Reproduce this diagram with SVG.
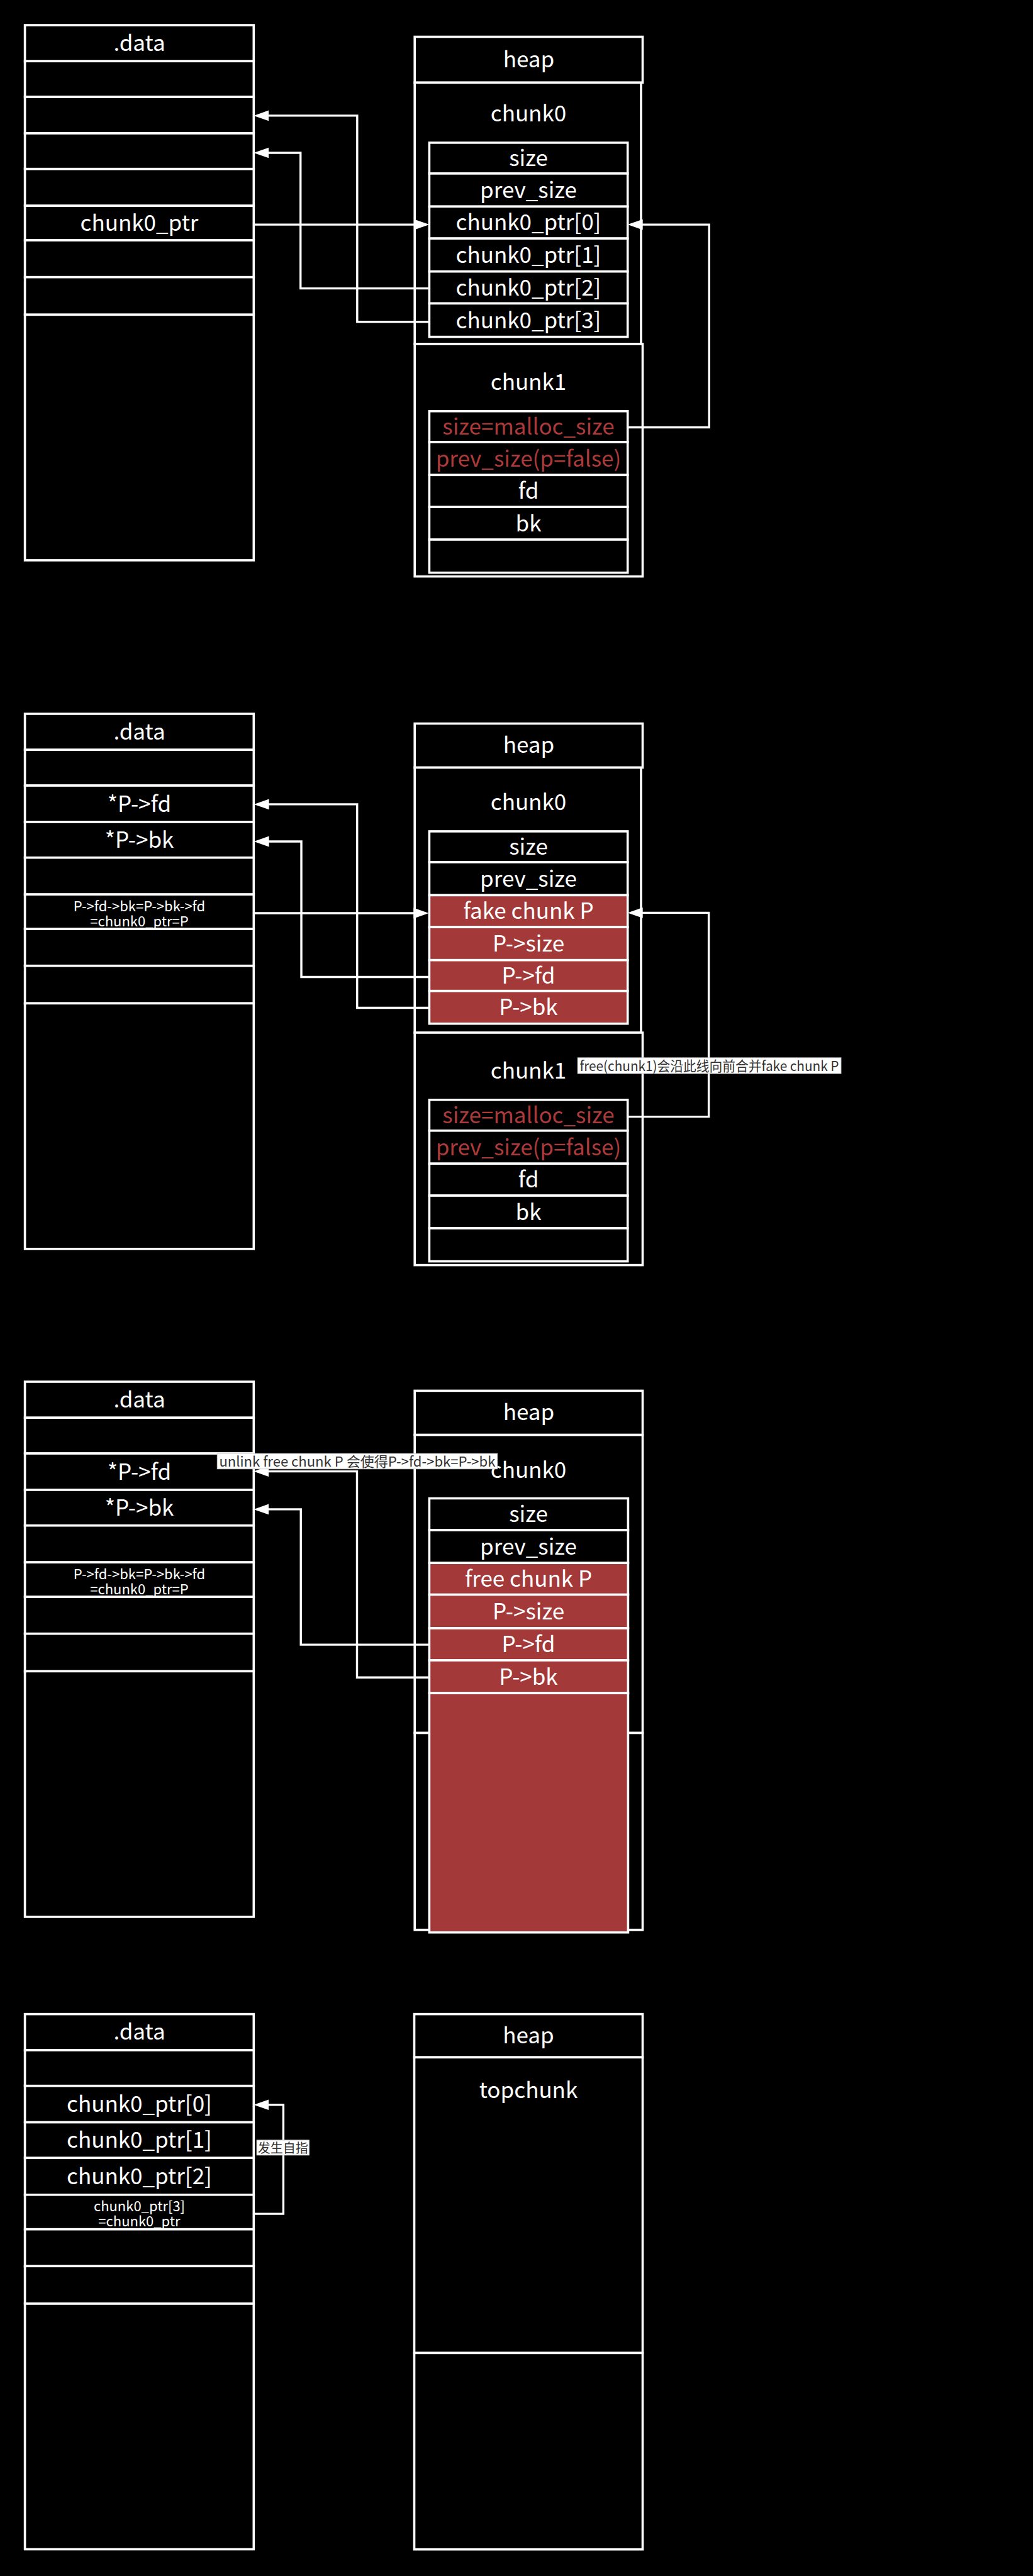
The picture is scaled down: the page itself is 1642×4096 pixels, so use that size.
<svg xmlns="http://www.w3.org/2000/svg" width="1642" height="4096" viewBox="0 0 1642 4096">
<defs>
<style>
.bg{fill:#000}
.box{fill:#000;stroke:#fff;stroke-width:3.6}
.red{fill:#a33939;stroke:#fff;stroke-width:3.6}
text{font-family:"Noto Sans CJK SC","Liberation Sans",sans-serif;text-anchor:middle}
.t{fill:#fff;font-size:35px}
.tr{fill:#ad3a3a;font-size:35px}
.ts{fill:#fff;font-size:22px}
.edge{fill:none;stroke:#fff;stroke-width:3.4}
.lblbg{fill:#fff;stroke:#cfcfcf;stroke-width:1}
.lbl{fill:#333;font-size:22px}
</style>
<marker id="arr" markerUnits="userSpaceOnUse" viewBox="0 -9 25 18" markerWidth="25" markerHeight="18" refX="19" refY="0" orient="auto">
<path d="M24,0 L0,-8.4 L0,8.4 Z" fill="#fff"/>
</marker>
<g id="datacol">
<rect class="box" x="39.6" y="40" width="363.7" height="57.3"/>
<rect class="box" x="39.6" y="97.3" width="363.7" height="56.8"/>
<rect class="box" x="39.6" y="154.1" width="363.7" height="57.9"/>
<rect class="box" x="39.6" y="212" width="363.7" height="56.7"/>
<rect class="box" x="39.6" y="268.7" width="363.7" height="58.5"/>
<rect class="box" x="39.6" y="327.2" width="363.7" height="54.9"/>
<rect class="box" x="39.6" y="382.1" width="363.7" height="58.6"/>
<rect class="box" x="39.6" y="440.7" width="363.7" height="59.7"/>
<rect class="box" x="39.6" y="500.4" width="363.7" height="390.5"/>
<text class="t" x="221.5" y="80.6">.data</text>
</g>
</defs>
<rect class="bg" x="0" y="0" width="1642" height="4096"/>

<!-- Panel 1 -->
<g id="p1-data">
<use href="#datacol"/>
<text class="t" x="221.5" y="367.2">chunk0_ptr</text>
</g>
<g id="p1-heap">
<rect class="box" x="659.2" y="58.5" width="362.3" height="72.9"/>
<text class="t" x="840.4" y="107">heap</text>
<rect class="box" x="659.2" y="131.4" width="359.8" height="415.6"/>
<text class="t" x="840" y="193">chunk0</text>
<rect class="box" x="682.4" y="226.9" width="315.3" height="49"/>
<rect class="box" x="682.4" y="275.9" width="315.3" height="52.5"/>
<rect class="box" x="682.4" y="328.4" width="315.3" height="50.8"/>
<rect class="box" x="682.4" y="379.2" width="315.3" height="52.5"/>
<rect class="box" x="682.4" y="431.7" width="315.3" height="50.8"/>
<rect class="box" x="682.4" y="482.5" width="315.3" height="53.1"/>
<text class="t" x="840" y="264">size</text>
<text class="t" x="840" y="314.6">prev_size</text>
<text class="t" x="840" y="366.3">chunk0_ptr[0]</text>
<text class="t" x="840" y="418">chunk0_ptr[1]</text>
<text class="t" x="840" y="469.6">chunk0_ptr[2]</text>
<text class="t" x="840" y="521.5">chunk0_ptr[3]</text>
<rect class="box" x="659.2" y="547" width="362.3" height="369.6"/>
<text class="t" x="840" y="620">chunk1</text>
<rect class="box" x="682.4" y="653.8" width="315.3" height="49"/>
<rect class="box" x="682.4" y="702.8" width="315.3" height="52.5"/>
<rect class="box" x="682.4" y="755.3" width="315.3" height="50.8"/>
<rect class="box" x="682.4" y="806.1" width="315.3" height="51.9"/>
<rect class="box" x="682.4" y="858" width="315.3" height="52.6"/>
<text class="tr" x="840" y="690.8">size=malloc_size</text>
<text class="tr" x="840" y="741.5">prev_size(p=false)</text>
<text class="t" x="840" y="793.2">fd</text>
<text class="t" x="840" y="844.5">bk</text>
</g>

<!-- Panel 2 -->
<g id="p2-data" transform="translate(0,1095)">
<use href="#datacol"/>
<text class="t" x="221.5" y="195.5">*P-&gt;fd</text>
<text class="t" x="221.5" y="252.8">*P-&gt;bk</text>
<text class="ts" x="221.5" y="353.7">P-&gt;fd-&gt;bk=P-&gt;bk-&gt;fd</text>
<text class="ts" x="221.5" y="377.7">=chunk0_ptr=P</text>
</g>
<g id="p2-heap" transform="translate(0,1095)">
<rect class="box" x="659.2" y="55.5" width="362.3" height="70"/>
<text class="t" x="840.4" y="102">heap</text>
<rect class="box" x="659.2" y="125.5" width="359.8" height="421.5"/>
<text class="t" x="840" y="193">chunk0</text>
<rect class="box" x="682.4" y="226.9" width="315.3" height="49"/>
<rect class="box" x="682.4" y="275.9" width="315.3" height="52.5"/>
<rect class="red" x="682.4" y="328.4" width="315.3" height="50.8"/>
<rect class="red" x="682.4" y="379.2" width="315.3" height="52.5"/>
<rect class="red" x="682.4" y="431.7" width="315.3" height="49"/>
<rect class="red" x="682.4" y="480.7" width="315.3" height="52"/>
<text class="t" x="840" y="264">size</text>
<text class="t" x="840" y="314.6">prev_size</text>
<text class="t" x="840" y="366.3">fake chunk P</text>
<text class="t" x="840" y="418">P-&gt;size</text>
<text class="t" x="840" y="468.6">P-&gt;fd</text>
<text class="t" x="840" y="519">P-&gt;bk</text>
<rect class="box" x="659.2" y="547" width="362.3" height="369.6"/>
<text class="t" x="840" y="620">chunk1</text>
<rect class="box" x="682.4" y="653.8" width="315.3" height="49"/>
<rect class="box" x="682.4" y="702.8" width="315.3" height="52.5"/>
<rect class="box" x="682.4" y="755.3" width="315.3" height="50.8"/>
<rect class="box" x="682.4" y="806.1" width="315.3" height="51.9"/>
<rect class="box" x="682.4" y="858" width="315.3" height="52.6"/>
<text class="tr" x="840" y="690.8">size=malloc_size</text>
<text class="tr" x="840" y="741.5">prev_size(p=false)</text>
<text class="t" x="840" y="793.2">fd</text>
<text class="t" x="840" y="844.5">bk</text>
</g>

<!-- Panel 3 -->
<g id="p3-data" transform="translate(0,2157)">
<use href="#datacol"/>
<text class="t" x="221.5" y="195.5">*P-&gt;fd</text>
<text class="t" x="221.5" y="252.8">*P-&gt;bk</text>
<text class="ts" x="221.5" y="353.7">P-&gt;fd-&gt;bk=P-&gt;bk-&gt;fd</text>
<text class="ts" x="221.5" y="377.7">=chunk0_ptr=P</text>
</g>
<g id="p3-heap">
<rect class="box" x="659.2" y="2211.4" width="362.3" height="70.2"/>
<text class="t" x="840.4" y="2257.8">heap</text>
<rect class="box" x="659.2" y="2281.6" width="362.3" height="473.9"/>
<rect class="box" x="659.2" y="2755.5" width="362.3" height="313.1"/>
<text class="t" x="840" y="2349.5">chunk0</text>
<rect class="box" x="682.4" y="2382.5" width="316" height="50.5"/>
<rect class="box" x="682.4" y="2433" width="316" height="52.2"/>
<rect class="red" x="682.4" y="2485.2" width="316" height="50.4"/>
<rect class="red" x="682.4" y="2535.6" width="316" height="53.4"/>
<rect class="red" x="682.4" y="2589" width="316" height="51"/>
<rect class="red" x="682.4" y="2640" width="316" height="52.2"/>
<rect class="red" x="682.4" y="2692.2" width="316" height="380.5"/>
<text class="t" x="840" y="2420">size</text>
<text class="t" x="840" y="2471.6">prev_size</text>
<text class="t" x="840" y="2523">free chunk P</text>
<text class="t" x="840" y="2574.8">P-&gt;size</text>
<text class="t" x="840" y="2627">P-&gt;fd</text>
<text class="t" x="840" y="2678.6">P-&gt;bk</text>
</g>

<!-- Panel 4 -->
<g id="p4-data" transform="translate(0,3162.6)">
<use href="#datacol"/>
<text class="t" x="221.5" y="195.5">chunk0_ptr[0]</text>
<text class="t" x="221.5" y="252.8">chunk0_ptr[1]</text>
<text class="t" x="221.5" y="310.4">chunk0_ptr[2]</text>
<text class="ts" x="221.5" y="353.7">chunk0_ptr[3]</text>
<text class="ts" x="221.5" y="377.7">=chunk0_ptr</text>
</g>
<g id="p4-heap">
<rect class="box" x="658.5" y="3202.6" width="363" height="68.7"/>
<text class="t" x="840" y="3249.2">heap</text>
<rect class="box" x="658.5" y="3271.3" width="363" height="470.1"/>
<text class="t" x="840" y="3336">topchunk</text>
<rect class="box" x="658.5" y="3741.4" width="363" height="312.3"/>
</g>

<g id="connectors">
<path class="edge" marker-end="url(#arr)" d="M403.3,357.1 H677.4"/>
<path class="edge" marker-end="url(#arr)" d="M682.4,458.6 H477.7 V243 H408.3"/>
<path class="edge" marker-end="url(#arr)" d="M682.4,511.7 H567.8 V183.9 H408.3"/>
<path class="edge" marker-end="url(#arr)" d="M997.7,679.5 H1127.2 V357.1 H1002.7"/>

<path class="edge" marker-end="url(#arr)" d="M403.6,1452 H676.4"/>
<path class="edge" marker-end="url(#arr)" d="M682.4,1553.5 H479 V1338 H408.6"/>
<path class="edge" marker-end="url(#arr)" d="M682.4,1602.5 H567.7 V1278.9 H408.6"/>
<path class="edge" marker-end="url(#arr)" d="M997.7,1775.6 H1126.6 V1451.4 H1002.7"/>
<rect class="lblbg" x="918.2" y="1681.9" width="418.7" height="25.1"/>
<text class="lbl" x="1127.5" y="1702.5" textLength="412" lengthAdjust="spacingAndGlyphs">free(chunk1)会沿此线向前合并fake chunk P</text>

<path class="edge" marker-end="url(#arr)" d="M682.4,2615.1 H478.2 V2399.9 H408.1"/>
<path class="edge" marker-end="url(#arr)" d="M682.4,2667.3 H567.5 V2339.6 H408.1"/>
<rect class="lblbg" x="345.3" y="2311.2" width="445.2" height="24.5"/>
<text class="lbl" x="567.9" y="2331.8" textLength="439" lengthAdjust="spacingAndGlyphs">unlink free chunk P 会使得P-&gt;fd-&gt;bk=P-&gt;bk</text>

<path class="edge" marker-end="url(#arr)" d="M403.3,3520.1 H450.4 V3346.7 H408.3"/>
<rect class="lblbg" x="408.1" y="3402.9" width="83.2" height="23.9"/>
<text class="lbl" x="449.7" y="3422.5" style="font-size:20.5px" textLength="80" lengthAdjust="spacingAndGlyphs">发生自指</text>
</g>
</svg>
